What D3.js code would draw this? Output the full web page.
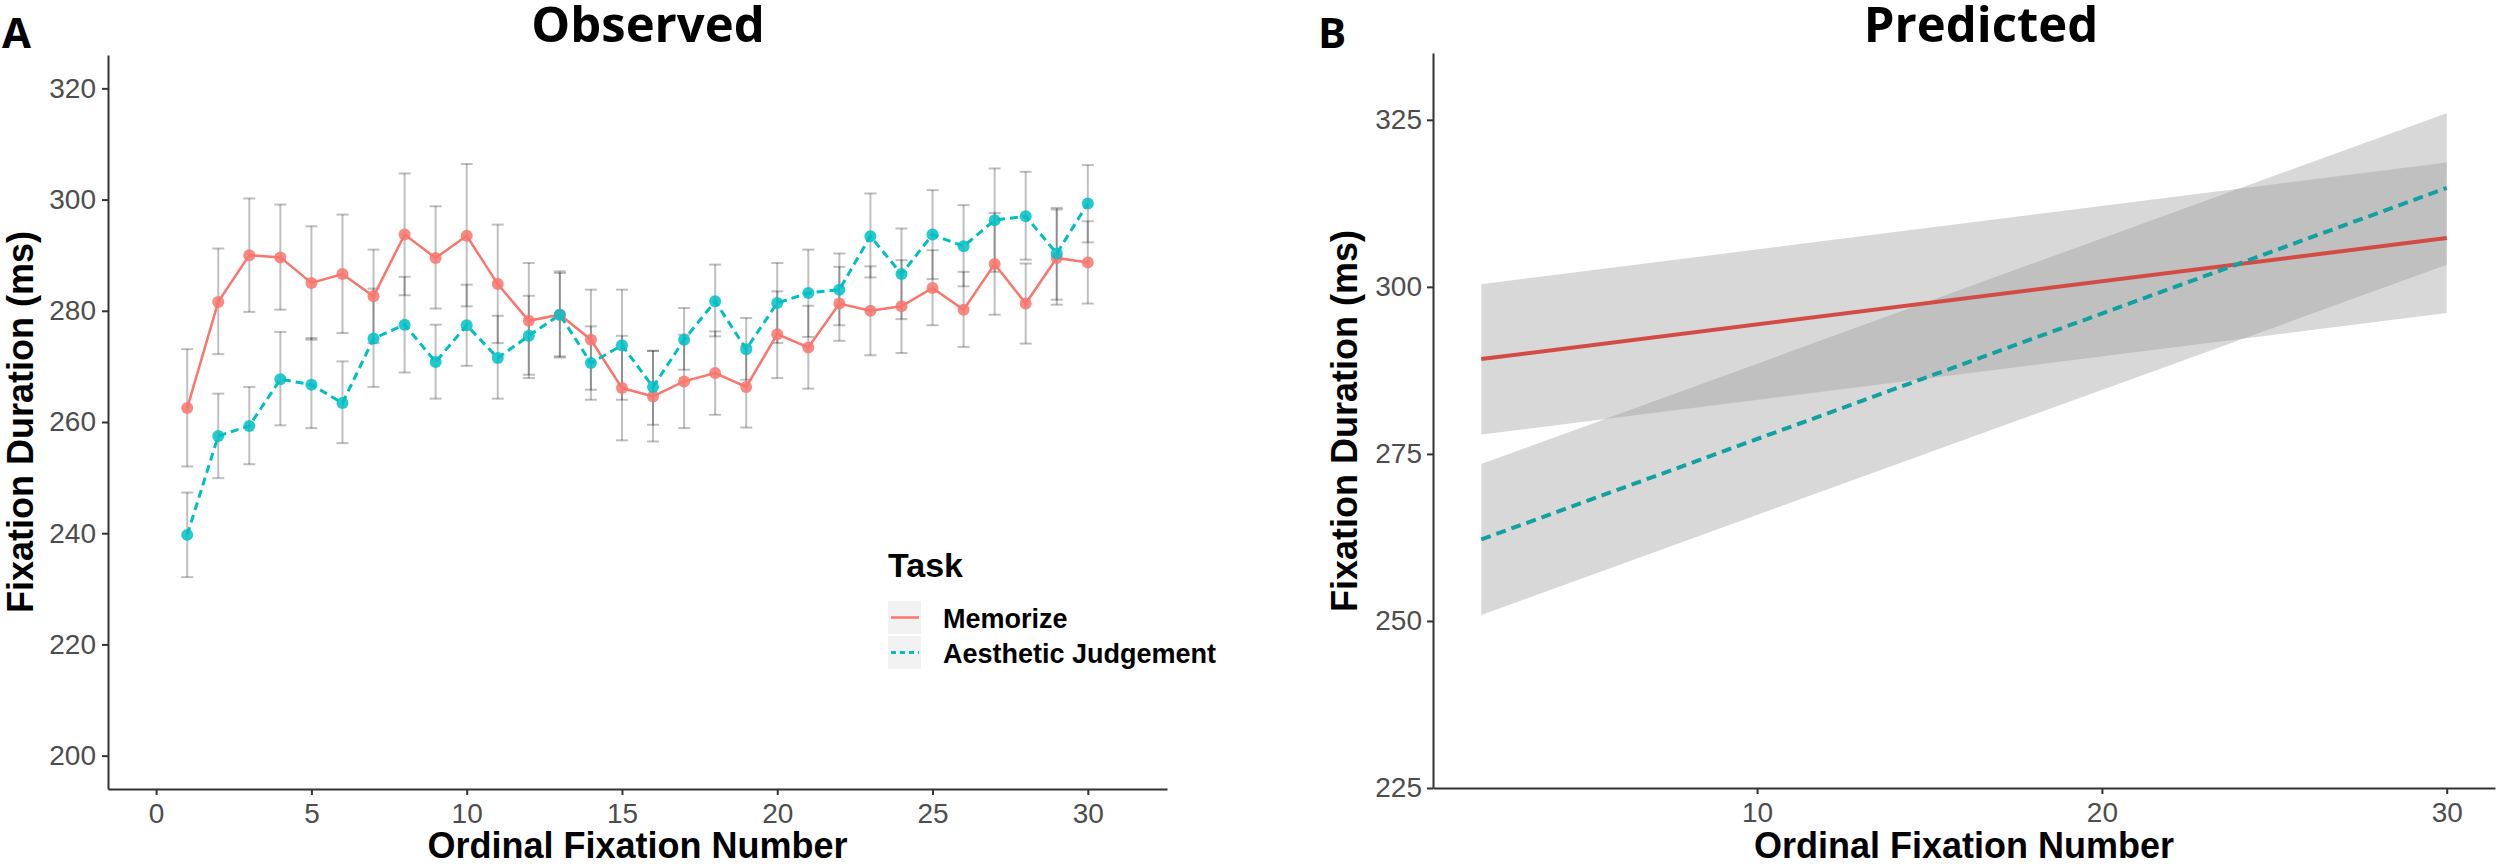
<!DOCTYPE html>
<html>
<head>
<meta charset="utf-8">
<script src="https://cdn.jsdelivr.net/npm/d3@7"></script>
<style>
  html, body { margin: 0; padding: 0; background: #fff; }
  .tick text { font-family: "Liberation Sans", Arial, sans-serif; font-size: 28px; fill: #4d4d4d; }
  .tick line, .domain { stroke: #333; stroke-width: 2px; }
  .axis-title { font-family: "Liberation Sans", Arial, sans-serif; font-weight: bold; font-size: 36px; fill: #000; }
  .panel-title { font-family: "Open Sans", "Noto Sans", sans-serif; font-weight: 700; font-size: 49px; fill: #000; }
  .panel-tag { font-family: "Open Sans", "Noto Sans", sans-serif; font-weight: 700; font-size: 42px; fill: #000; }
  .legend-title { font-family: "Liberation Sans", Arial, sans-serif; font-weight: bold; font-size: 34px; }
  .legend-label { font-family: "Liberation Sans", Arial, sans-serif; font-weight: bold; font-size: 27px; }
</style>
</head>
<body>
<div id="chart"></div>
<script>
// ---------- data ----------
const fixationNumber = d3.range(1, 31);

const memorizeMean = [262.5, 281.6, 290.0, 289.6, 285.0, 286.6, 282.6, 293.7, 289.5, 293.5,
                      284.8, 278.2, 279.3, 274.8, 266.1, 264.6, 267.3, 268.8, 266.3, 275.8,
                      273.4, 281.3, 280.0, 280.8, 284.1, 280.2, 288.4, 281.3, 289.5, 288.7];
const memorizeLow  = [252.0, 272.2, 279.8, 280.2, 274.8, 276.0, 274.2, 282.8, 280.4, 280.8,
                      274.2, 268.5, 271.8, 264.0, 256.7, 256.5, 258.9, 261.3, 259.0, 267.9,
                      266.0, 274.6, 272.0, 272.4, 277.4, 273.5, 279.3, 274.1, 282.0, 281.3];
const memorizeHigh = [273.1, 291.2, 300.2, 299.1, 295.2, 297.3, 291.0, 304.7, 298.8, 306.4,
                      295.5, 288.6, 287.1, 283.8, 275.5, 272.8, 275.7, 276.3, 273.6, 283.5,
                      280.9, 287.9, 288.0, 289.1, 290.9, 287.0, 297.6, 288.5, 298.2, 296.1];

const aestheticMean = [239.7, 257.5, 259.3, 267.7, 266.7, 263.4, 275.0, 277.5, 270.8, 277.4,
                       271.5, 275.5, 279.3, 270.6, 273.8, 266.3, 274.8, 281.7, 273.1, 281.4,
                       283.2, 283.8, 293.4, 286.6, 293.7, 291.6, 296.3, 297.0, 290.3, 299.3];
const aestheticLow  = [232.1, 249.9, 252.4, 259.4, 258.9, 256.2, 266.3, 268.9, 264.2, 270.1,
                       264.2, 267.9, 271.6, 265.8, 264.0, 259.5, 269.4, 275.4, 267.6, 274.2,
                       275.3, 277.4, 286.0, 278.5, 285.7, 284.4, 287.0, 289.2, 281.1, 292.3];
const aestheticHigh = [247.3, 265.1, 266.3, 276.2, 275.1, 270.9, 284.0, 286.1, 277.5, 284.7,
                       279.1, 282.7, 286.8, 277.2, 283.8, 272.8, 280.5, 288.3, 278.7, 288.6,
                       291.0, 290.3, 301.1, 294.8, 301.7, 299.0, 305.6, 305.0, 298.5, 306.2];

// predicted (linear fits, endpoints)
const predX = [2, 30];
const memorizeFit     = [289.2, 307.3];
const memorizeFitLow  = [277.9, 296.1];
const memorizeFitHigh = [300.4, 318.6];
const aestheticFit     = [262.2, 314.8];
const aestheticFitLow  = [250.9, 303.3];
const aestheticFitHigh = [273.5, 326.0];

const taskNames = ["Memorize", "Aesthetic Judgement"];
const ticksAX = [0, 5, 10, 15, 20, 25, 30];
const ticksAY = [200, 220, 240, 260, 280, 300, 320];
const ticksBX = [10, 20, 30];
const ticksBY = [225, 250, 275, 300, 325];

// ---------- setup ----------
const width = 2500, height = 866;
const svg = d3.select("#chart").append("svg")
    .attr("width", width).attr("height", height);

const red = "#F8766D", teal = "#00BFC4";
const redDark = "#D24C45", tealDark = "#12A1A1";

// ========== PANEL A : Observed ==========
const xA = d3.scaleLinear().domain([-1.55, 32.55]).range([108, 1167]);
const yA = d3.scaleLinear().domain([194, 326]).range([789, 55]);

const gA = svg.append("g");

const obs = [
    { name: taskNames[0], mean: memorizeMean, low: memorizeLow, high: memorizeHigh, color: red, dash: null },
    { name: taskNames[1], mean: aestheticMean, low: aestheticLow, high: aestheticHigh, color: teal, dash: "8,5" }
];

// error bars
obs.forEach(s => {
    const eb = gA.append("g").attr("stroke", "rgba(0,0,0,0.25)").attr("stroke-width", 2);
    fixationNumber.forEach((f, i) => {
        const x = xA(f);
        eb.append("line").attr("x1", x).attr("x2", x).attr("y1", yA(s.low[i])).attr("y2", yA(s.high[i]));
        eb.append("line").attr("x1", x - 6).attr("x2", x + 6).attr("y1", yA(s.low[i])).attr("y2", yA(s.low[i]));
        eb.append("line").attr("x1", x - 6).attr("x2", x + 6).attr("y1", yA(s.high[i])).attr("y2", yA(s.high[i]));
    });
});

// lines
obs.forEach(s => {
    const line = d3.line().x((d, i) => xA(fixationNumber[i])).y(d => yA(d));
    gA.append("path")
        .datum(s.mean)
        .attr("d", line)
        .attr("fill", "none")
        .attr("stroke", s.color)
        .attr("stroke-width", s.dash ? 3 : 2.5)
        .attr("stroke-dasharray", s.dash);
});

// points
obs.forEach(s => {
    gA.append("g").selectAll("circle")
        .data(s.mean)
        .join("circle")
        .attr("cx", (d, i) => xA(fixationNumber[i]))
        .attr("cy", d => yA(d))
        .attr("r", 6)
        .attr("fill", s.color)
        .attr("opacity", 0.85);
});

// axes
gA.append("g")
    .attr("transform", `translate(0, ${yA.range()[0]})`)
    .call(d3.axisBottom(xA).tickValues(ticksAX).tickSize(6).tickSizeOuter(0).tickPadding(8));
gA.append("g")
    .attr("transform", `translate(${xA.range()[0]}, 0)`)
    .call(d3.axisLeft(yA).tickValues(ticksAY).tickSize(6).tickSizeOuter(0).tickPadding(6));

gA.append("text").attr("class", "axis-title")
    .attr("text-anchor", "middle")
    .attr("x", 637.5).attr("y", 858)
    .text("Ordinal Fixation Number");
gA.append("text").attr("class", "axis-title")
    .attr("text-anchor", "middle")
    .attr("transform", "translate(32.5, 422) rotate(-90)")
    .text("Fixation Duration (ms)");

gA.append("text").attr("class", "panel-title")
    .attr("text-anchor", "middle").attr("x", 648).attr("y", 42)
    .text("Observed");
gA.append("text").attr("class", "panel-tag")
    .attr("x", 2).attr("y", 48).text("A");

// legend
const legend = gA.append("g").attr("transform", "translate(888, 577)");
legend.append("text").attr("class", "legend-title").attr("x", 0).attr("y", 0).text("Task");
obs.forEach((s, i) => {
    const g = legend.append("g").attr("transform", `translate(0, ${24 + i * 35})`);
    g.append("rect").attr("width", 33).attr("height", 33).attr("fill", "#f2f2f2");
    g.append("line")
        .attr("x1", 3).attr("x2", 31).attr("y1", 16.5).attr("y2", 16.5)
        .attr("stroke", s.color)
        .attr("stroke-width", s.dash ? 3 : 2.5)
        .attr("stroke-dasharray", s.dash ? "5,4" : null);
    g.append("text").attr("class", "legend-label")
        .attr("x", 55).attr("y", 26.5).text(s.name);
});

// ========== PANEL B : Predicted ==========
const xB = d3.scaleLinear().domain([0.6, 31.4]).range([1433, 2495]);
const yB = d3.scaleLinear().domain([225, 335]).range([788, 53]);

const gB = svg.append("g");

const pred = [
    { fit: memorizeFit, low: memorizeFitLow, high: memorizeFitHigh, color: redDark, dash: null },
    { fit: aestheticFit, low: aestheticFitLow, high: aestheticFitHigh, color: tealDark, dash: "10,6" }
];

const area = d3.area()
    .x((d, i) => xB(predX[i]))
    .y0(d => yB(d[0]))
    .y1(d => yB(d[1]));

pred.forEach(s => {
    gB.append("path")
        .datum(predX.map((x, i) => [s.low[i], s.high[i]]))
        .attr("d", area)
        .attr("fill", "#999999")
        .attr("opacity", 0.38);
});

pred.forEach(s => {
    const line = d3.line().x((d, i) => xB(predX[i])).y(d => yB(d));
    gB.append("path")
        .datum(s.fit)
        .attr("d", line)
        .attr("fill", "none")
        .attr("stroke", s.color)
        .attr("stroke-width", 4)
        .attr("stroke-dasharray", s.dash);
});

gB.append("g")
    .attr("transform", `translate(0, ${yB.range()[0]})`)
    .call(d3.axisBottom(xB).tickValues(ticksBX).tickSize(6).tickSizeOuter(0).tickPadding(8));
gB.append("g")
    .attr("transform", `translate(${xB.range()[0]}, 0)`)
    .call(d3.axisLeft(yB).tickValues(ticksBY).tickSize(6).tickSizeOuter(0).tickPadding(5));

gB.append("text").attr("class", "axis-title")
    .attr("text-anchor", "middle")
    .attr("x", 1964).attr("y", 858)
    .text("Ordinal Fixation Number");
gB.append("text").attr("class", "axis-title")
    .attr("text-anchor", "middle")
    .attr("transform", "translate(1356.5, 421) rotate(-90)")
    .text("Fixation Duration (ms)");

gB.append("text").attr("class", "panel-title")
    .attr("text-anchor", "middle").attr("x", 1981).attr("y", 42)
    .text("Predicted");
gB.append("text").attr("class", "panel-tag")
    .attr("x", 1318).attr("y", 48).text("B");
</script>
</body>
</html>
